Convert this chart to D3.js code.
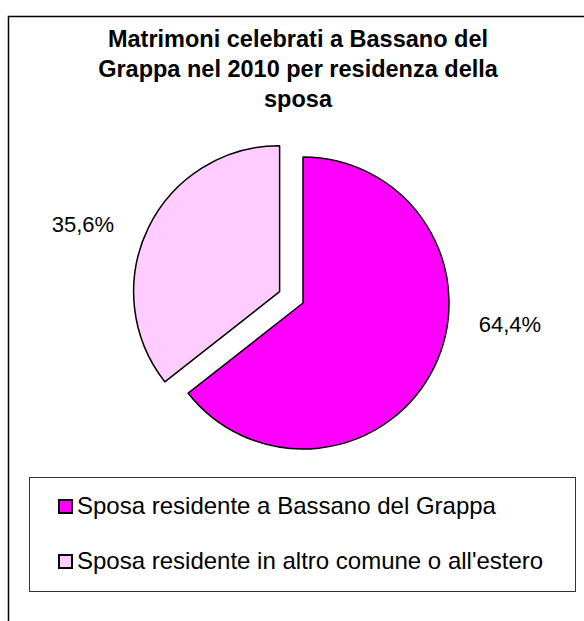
<!doctype html>
<html lang="it">
<head>
<meta charset="utf-8">
<script src="https://d3js.org/d3.v7.min.js"></script>
<style>
  html, body { margin: 0; background: #fff; overflow: hidden; }
  svg { display: block; }
  svg text { font-family: "Liberation Sans", Arial, sans-serif; fill: #000; }
</style>
</head>
<body>
<div id="chart"></div>
<script>
// data
var categories = ["Sposa residente a Bassano del Grappa", "Sposa residente in altro comune o all'estero"];
var values = [64.4, 35.6];
var valueLabels = ["64,4%", "35,6%"];
var colors = ["#ff00ff", "#ffccff"];
var titleLines = ["Matrimoni celebrati a Bassano del", "Grappa nel 2010 per residenza della", "sposa"];

var width = 584, height = 621;
var cx = 303, cy = 303, radius = 146, explode = 26;

var svg = d3.select("#chart")
  .append("svg")
  .attr("width", width)
  .attr("height", height);

// outer frame: only the left and top sides are inside the picture
svg.append("path")
  .attr("d", "M8.5," + height + "V16.5H" + width)
  .attr("fill", "none")
  .attr("stroke", "#000")
  .attr("stroke-width", 1.5);

// title
svg.append("text")
  .attr("text-anchor", "middle")
  .style("font-weight", "bold")
  .style("font-size", "23.5px")
  .selectAll("tspan")
  .data(titleLines)
  .enter()
  .append("tspan")
  .attr("x", 298)
  .attr("y", function(d, i) { return 47 + i * 30; })
  .text(function(d) { return d; });

var pie = d3.pie().sort(null).value(function(d) { return d; });
var arcs = pie(values);
var arc = d3.arc().innerRadius(0).outerRadius(radius);

function offset(d, i) {
  // the second slice is pulled out of the pie
  if (i !== 1) return [0, 0];
  var a = (d.startAngle + d.endAngle) / 2;
  return [Math.sin(a) * explode, -Math.cos(a) * explode];
}

var g = svg.append("g").attr("transform", "translate(" + cx + "," + cy + ")");

g.selectAll("path")
  .data(arcs)
  .enter()
  .append("path")
  .attr("d", arc)
  .attr("transform", function(d, i) { var o = offset(d, i); return "translate(" + o[0] + "," + o[1] + ")"; })
  .attr("fill", function(d, i) { return colors[i]; })
  .attr("stroke", "#000")
  .attr("stroke-width", 1.5)
  .attr("stroke-linejoin", "round");

// percentage labels outside the slices, nudged toward the horizontal like excel does
var labelR = 208;
var labelShift = [-20, -7].map(function(v) { return v * Math.PI / 180; });
g.selectAll("text.lab")
  .data(arcs)
  .enter()
  .append("text")
  .attr("class", "lab")
  .attr("text-anchor", "middle")
  .style("font-size", "22px")
  .attr("transform", function(d, i) {
    var a = (d.startAngle + d.endAngle) / 2 + labelShift[i], o = offset(d, i);
    return "translate(" + (Math.sin(a) * labelR + o[0]) + "," + (-Math.cos(a) * labelR + o[1]) + ")";
  })
  .attr("dy", "0.35em")
  .text(function(d, i) { return valueLabels[i]; });

// legend
var legend = svg.append("g");
legend.append("rect")
  .attr("x", 29.5).attr("y", 477.5)
  .attr("width", 546).attr("height", 114)
  .attr("fill", "#fff")
  .attr("stroke", "#333")
  .attr("stroke-width", 1);

var items = legend.selectAll("g.item")
  .data(categories)
  .enter()
  .append("g")
  .attr("class", "item")
  .attr("transform", function(d, i) { return "translate(0," + (i * 55) + ")"; });

items.append("rect")
  .attr("x", 59).attr("y", 500)
  .attr("width", 13).attr("height", 13)
  .attr("fill", function(d, i) { return colors[i]; })
  .attr("stroke", "#000")
  .attr("stroke-width", 2);

items.append("text")
  .attr("x", 77).attr("y", 514)
  .style("font-size", "24px")
  .text(function(d) { return d; });
</script>
</body>
</html>
